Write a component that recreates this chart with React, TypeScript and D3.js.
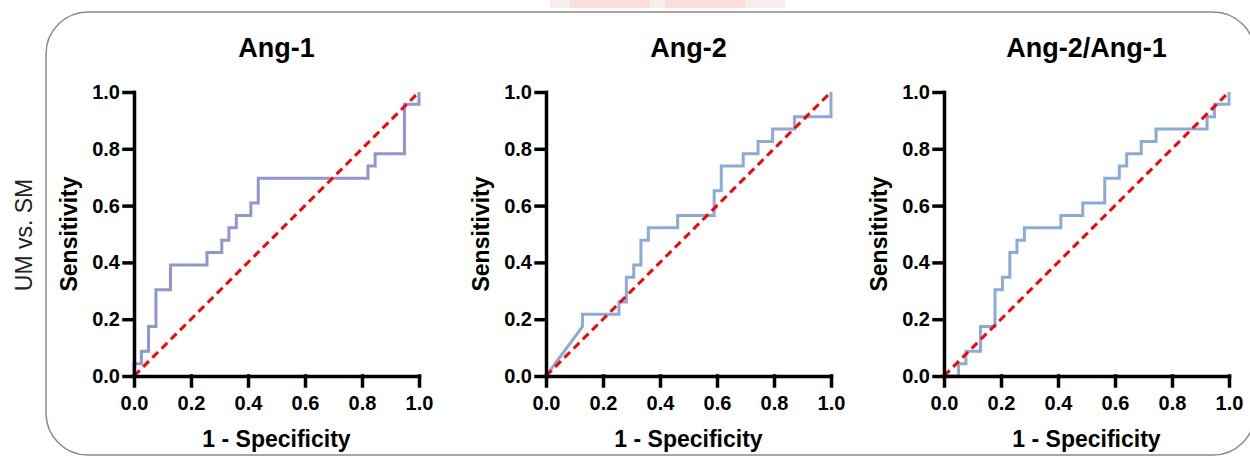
import React, { useEffect, useRef } from 'react';
import * as d3 from 'd3';

// ROC vertices (1 - specificity, sensitivity)
const ang1Fpr = [0, 0, 0.026, 0.026, 0.051, 0.051, 0.077, 0.077, 0.128, 0.128, 0.256, 0.256, 0.308, 0.308, 0.333, 0.333, 0.359, 0.359, 0.41, 0.41, 0.436, 0.436, 0.821, 0.821, 0.846, 0.846, 0.949, 0.949, 1, 1];
const ang1Tpr = [0, 0.043, 0.043, 0.087, 0.087, 0.174, 0.174, 0.304, 0.304, 0.391, 0.391, 0.435, 0.435, 0.478, 0.478, 0.522, 0.522, 0.565, 0.565, 0.609, 0.609, 0.696, 0.696, 0.739, 0.739, 0.783, 0.783, 0.957, 0.957, 1];

const ang2Fpr = [0, 0.128, 0.128, 0.256, 0.256, 0.282, 0.282, 0.308, 0.308, 0.333, 0.333, 0.359, 0.359, 0.462, 0.462, 0.59, 0.59, 0.615, 0.615, 0.692, 0.692, 0.744, 0.744, 0.795, 0.795, 0.872, 0.872, 1, 1];
const ang2Tpr = [0, 0.174, 0.217, 0.217, 0.261, 0.261, 0.348, 0.348, 0.391, 0.391, 0.478, 0.478, 0.522, 0.522, 0.565, 0.565, 0.652, 0.652, 0.739, 0.739, 0.783, 0.783, 0.826, 0.826, 0.87, 0.87, 0.913, 0.913, 1];

const ratioFpr = [0, 0.051, 0.051, 0.077, 0.077, 0.128, 0.128, 0.179, 0.179, 0.205, 0.205, 0.231, 0.231, 0.256, 0.256, 0.282, 0.282, 0.41, 0.41, 0.487, 0.487, 0.564, 0.564, 0.615, 0.615, 0.641, 0.641, 0.692, 0.692, 0.744, 0.744, 0.923, 0.923, 0.949, 0.949, 1, 1];
const ratioTpr = [0, 0, 0.043, 0.043, 0.087, 0.087, 0.174, 0.174, 0.304, 0.304, 0.348, 0.348, 0.435, 0.435, 0.478, 0.478, 0.522, 0.522, 0.565, 0.565, 0.609, 0.609, 0.696, 0.696, 0.739, 0.739, 0.783, 0.783, 0.826, 0.826, 0.87, 0.87, 0.913, 0.913, 0.957, 0.957, 1];

const titles = ['Ang-1', 'Ang-2', 'Ang-2/Ang-1'];
const lineColors = ['#8f97d3', '#8aabd9', '#8aabd9'];
const tickValues = [0, 0.2, 0.4, 0.6, 0.8, 1.0];
const rowLabel = 'UM vs. SM';

const panels = [
    { fpr: ang1Fpr, tpr: ang1Tpr },
    { fpr: ang2Fpr, tpr: ang2Tpr },
    { fpr: ratioFpr, tpr: ratioTpr },
];

const W = 1250;
const H = 457;
const panelLefts = [134, 546, 944];
const plotW = 285;
const plotTop = 92;
const plotH = 284;
const font = "'Liberation Sans', Arial, sans-serif";

export default function App() {
    const svgRef = useRef<SVGSVGElement>(null);

    useEffect(() => {
        const svg = d3.select(svgRef.current);
        svg.selectAll('*').remove();

        // faint cropped watermark at the top edge
        const wm = svg.append('g').attr('opacity', 0.7);
        wm.append('rect').attr('x', 550).attr('y', 0).attr('width', 235).attr('height', 8).attr('fill', '#f3e6e6');
        wm.append('rect').attr('x', 570).attr('y', 0).attr('width', 80).attr('height', 8).attr('fill', '#fccfcf');
        wm.append('rect').attr('x', 665).attr('y', 0).attr('width', 80).attr('height', 8).attr('fill', '#fccfcf');

        // rounded frame
        svg.append('rect')
            .attr('x', 46).attr('y', 12)
            .attr('width', 1209).attr('height', 443)
            .attr('rx', 42).attr('ry', 42)
            .attr('fill', 'none')
            .attr('stroke', '#8a8a8a')
            .attr('stroke-width', 1.5);

        // row label
        svg.append('text')
            .attr('transform', `translate(32,235) rotate(-90)`)
            .attr('text-anchor', 'middle')
            .style('font-family', font)
            .style('font-size', '23px')
            .style('fill', '#222')
            .text(rowLabel);

        panels.forEach((p, i) => {
            const left = panelLefts[i];
            const g = svg.append('g').attr('transform', `translate(${left},${plotTop})`);

            const x = d3.scaleLinear().domain([0, 1]).range([0, plotW]);
            const y = d3.scaleLinear().domain([0, 1]).range([plotH, 0]);

            // ROC curve
            const pts = p.fpr.map((f, k) => [f, p.tpr[k]] as [number, number]);
            const line = d3.line<[number, number]>()
                .x(d => x(d[0]))
                .y(d => y(d[1]));

            g.append('path')
                .datum(pts)
                .attr('fill', 'none')
                .attr('stroke', lineColors[i])
                .attr('stroke-width', 3)
                .attr('stroke-linejoin', 'miter')
                .attr('d', line);

            // reference diagonal
            g.append('path')
                .datum([[0, 0], [1, 1]] as [number, number][])
                .attr('fill', 'none')
                .attr('stroke', '#ff0000')
                .attr('stroke-width', 3)
                .attr('stroke-dasharray', '8,5')
                .attr('d', line);

            // axes
            const fmt = d3.format('.1f');
            const yAxis = g.append('g')
                .call(d3.axisLeft(y).tickValues(tickValues).tickFormat(d => fmt(d as number)).tickSize(10).tickSizeOuter(0).tickPadding(4));
            const xAxis = g.append('g')
                .attr('transform', `translate(0,${plotH})`)
                .call(d3.axisBottom(x).tickValues(tickValues).tickFormat(d => fmt(d as number)).tickSize(10).tickSizeOuter(0).tickPadding(10));

            [yAxis, xAxis].forEach(a => {
                a.selectAll('path, line')
                    .attr('stroke', '#000')
                    .attr('stroke-width', 3.5)
                    .attr('stroke-linecap', 'square');
                a.selectAll('text')
                    .style('font-family', font)
                    .style('font-size', '20px')
                    .style('font-weight', 'bold')
                    .attr('fill', '#000');
            });

            // title
            svg.append('text')
                .attr('x', left + plotW / 2)
                .attr('y', 57)
                .attr('text-anchor', 'middle')
                .style('font-family', font)
                .style('font-size', '27px')
                .style('font-weight', 'bold')
                .text(titles[i]);

            // axis titles
            svg.append('text')
                .attr('x', left + plotW / 2)
                .attr('y', 447)
                .attr('text-anchor', 'middle')
                .style('font-family', font)
                .style('font-size', '23px')
                .style('font-weight', 'bold')
                .text('1 - Specificity');

            svg.append('text')
                .attr('transform', `translate(${left - 57},${plotTop + plotH / 2}) rotate(-90)`)
                .attr('text-anchor', 'middle')
                .style('font-family', font)
                .style('font-size', '23px')
                .style('font-weight', 'bold')
                .text('Sensitivity');
        });
    }, []);

    return (
        <div style={{ position: 'absolute', left: 0, top: 0 }}>
            <svg ref={svgRef} width={W} height={H} style={{ display: 'block', background: '#fff' }}></svg>
        </div>
    );
}
